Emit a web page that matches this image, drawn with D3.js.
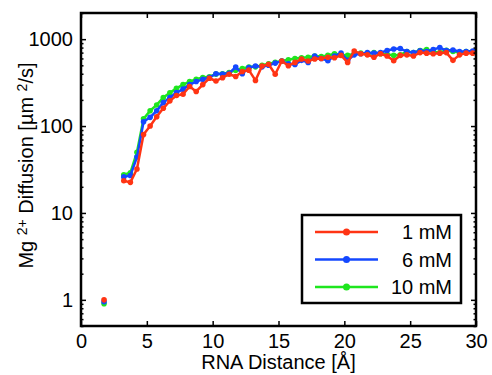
<!DOCTYPE html>
<html>
<meta charset='utf-8'>
<head>
<script src='https://d3js.org/d3.v7.min.js'></script>
<style>
body { margin: 0; background: #fff; }
text { font-family: 'Liberation Sans', Arial, sans-serif; fill: #000; }
</style>
</head>
<body>
<div id='chart'></div>
<script>
// RNA distance (Å); 2.25 and 2.75 have no data
var distance = [1.75, 2.25, 2.75, 3.25, 3.75, 4.25, 4.75, 5.25, 5.75, 6.25, 6.75, 7.25, 7.75, 8.25, 8.75,
  9.25, 9.75, 10.25, 10.75, 11.25, 11.75, 12.25, 12.75, 13.25, 13.75, 14.25, 14.75, 15.25, 15.75,
  16.25, 16.75, 17.25, 17.75, 18.25, 18.75, 19.25, 19.75, 20.25, 20.75, 21.25, 21.75, 22.25, 22.75,
  23.25, 23.75, 24.25, 24.75, 25.25, 25.75, 26.25, 26.75, 27.25, 27.75, 28.25, 28.75, 29.25, 29.75]

var mM1 = [1.0, null, null, 23.5, 22.5, 32, 80, 100, 128, 160, 195, 225, 232, 285, 250,
  300, 355, 330, 360, 395, 372, 425, 440, 335, 490, 515, 395, 560, 495,
  540, 590, 560, 590, 600, 620, 610, 650, 540, 730, 680, 660, 620, 680,
  640, 565, 650, 660, 640, 700, 690, 680, 690, 700, 570, 660, 690, 690]

var mM6 = [0.95, null, null, 26, 27, 44, 112, 126, 150, 186, 213, 243, 266, 300, 325,
  345, 362, 400, 396, 404, 478, 400, 470, 490, 480, 500, 530, 560, 520,
  510, 570, 540, 640, 600, 565, 640, 690, 570, 660, 680, 700, 690, 700,
  740, 770, 780, 720, 700, 735, 720, 760, 800, 740, 750, 720, 720, 730]

var mM10 = [0.9, null, null, 27.5, 29, 50, 121, 150, 175, 213, 241, 272, 300, 325, 346,
  362, 369, 396, 400, 412, 440, 460, 478, 480, 500, 520, 540, 560, 580,
  600, 610, 620, 640, 630, 650, 680, 660, 650, 680, 690, 670, 700, 680,
  670, 650, 660, 720, 700, 740, 760, 720, 700, 745, 720, 700, 720, 700]

var seriesNames = ['1 mM', '6 mM', '10 mM']
var seriesColors = ['#ff3414', '#1448ff', '#1ee61e']
var xTicks = [0, 5, 10, 15, 20, 25, 30]
var yTicks = [1, 10, 100, 1000]

var W = 492, H = 375
var pL = 81, pR = 476, pT = 13, pB = 326

var svg = d3.select('#chart').append('svg')
  .attr('width', W).attr('height', H)

var x = d3.scaleLinear().domain([0, 30]).range([pL, pR])
var y = d3.scaleLog().domain([0.5, 2000]).range([pB, pT])

var series = [mM1, mM6, mM10].map(function(v, i) {
  return { name: seriesNames[i], color: seriesColors[i],
    pts: distance.map(function(d, j) { return { x: d, y: v[j] } }) }
})

var line = d3.line()
  .defined(function(d) { return d.y != null })
  .x(function(d) { return x(d.x) })
  .y(function(d) { return y(d.y) })

// draw 10 mM first so 1 mM ends up on top
series.slice().reverse().forEach(function(s) {
  svg.append('path')
    .attr('d', line(s.pts))
    .attr('fill', 'none')
    .attr('stroke', s.color)
    .attr('stroke-width', 2.5)
    .attr('stroke-linejoin', 'round')
  svg.selectAll(null)
    .data(s.pts.filter(function(d) { return d.y != null }))
    .enter().append('circle')
    .attr('cx', function(d) { return x(d.x) })
    .attr('cy', function(d) { return y(d.y) })
    .attr('r', 2.8)
    .attr('fill', s.color)
})

// axes (ticks pointing inward, box on all sides)
var minor = y.ticks().filter(function(t) { return yTicks.indexOf(t) < 0 })

svg.append('g').attr('transform', 'translate(0,' + pB + ')')
  .call(d3.axisBottom(x).tickValues(xTicks).tickSize(-5).tickPadding(8).tickFormat(d3.format('d')))
svg.append('g').attr('transform', 'translate(0,' + pT + ')')
  .call(d3.axisTop(x).tickValues(xTicks).tickSize(-5).tickFormat(''))
svg.append('g').attr('transform', 'translate(' + pL + ',0)')
  .call(d3.axisLeft(y).tickValues(yTicks).tickSize(-5).tickPadding(8).tickFormat(d3.format('d')))
svg.append('g').attr('transform', 'translate(' + pR + ',0)')
  .call(d3.axisRight(y).tickValues(yTicks).tickSize(-5).tickFormat(''))
svg.append('g').attr('transform', 'translate(' + pL + ',0)')
  .call(d3.axisLeft(y).tickValues(minor).tickSize(-2.5).tickFormat(''))
svg.append('g').attr('transform', 'translate(' + pR + ',0)')
  .call(d3.axisRight(y).tickValues(minor).tickSize(-2.5).tickFormat(''))

svg.selectAll('.domain').remove()
svg.selectAll('.tick line').attr('stroke', '#000').attr('stroke-width', 1.5)
svg.selectAll('.tick text').attr('font-size', 20).attr('fill', '#000')
  .attr('font-family', "'Liberation Sans', Arial, sans-serif")

svg.append('rect')
  .attr('x', pL).attr('y', pT)
  .attr('width', pR - pL).attr('height', pB - pT)
  .attr('fill', 'none').attr('stroke', '#000').attr('stroke-width', 2.5)

// axis titles
svg.append('text')
  .attr('x', (pL + pR) / 2).attr('y', 369)
  .attr('text-anchor', 'middle').attr('font-size', 20)
  .text('RNA Distance [Å]')

var yl = svg.append('text')
  .attr('transform', 'translate(33,' + ((pT + pB) / 2 - 4) + ') rotate(-90)')
  .attr('text-anchor', 'middle').attr('font-size', 20)
yl.append('tspan').text('Mg ')
yl.append('tspan').attr('font-size', 14).attr('baseline-shift', '40%').text('2+')
yl.append('tspan').text('  Diffusion [µm ')
yl.append('tspan').attr('font-size', 14).attr('baseline-shift', '40%').text('2')
yl.append('tspan').text('/s]')

// legend
var lg = svg.append('g')
lg.append('rect')
  .attr('x', 302).attr('y', 215).attr('width', 159).attr('height', 88)
  .attr('fill', '#fff').attr('stroke', '#000').attr('stroke-width', 2.5)
var item = lg.selectAll('.item').data(series).enter().append('g')
  .attr('transform', function(d, i) { return 'translate(0,' + (232 + i * 27.5) + ')' })
item.append('line')
  .attr('x1', 315).attr('x2', 378)
  .attr('stroke', function(d) { return d.color }).attr('stroke-width', 2.5)
item.append('circle')
  .attr('cx', 346.5).attr('r', 3.5)
  .attr('fill', function(d) { return d.color })
item.append('text')
  .attr('x', 452).attr('y', 7)
  .attr('text-anchor', 'end').attr('font-size', 20)
  .text(function(d) { return d.name })
</script>
</body>
</html>
